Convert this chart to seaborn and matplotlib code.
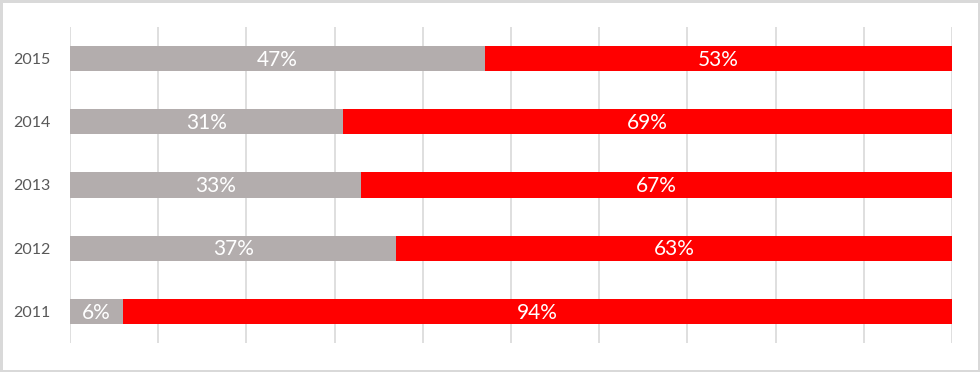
import pandas as pd
from matplotlib import pyplot as plt
import seaborn as sns
import numpy as np

years = ['2015', '2014', '2013', '2012', '2011']
grey_share = [47, 31, 33, 37, 6]
red_share = [53, 69, 67, 63, 94]

data = pd.DataFrame({'year': years, 'grey': grey_share, 'red': red_share})
data['total'] = data['grey'] + data['red']

sns.set_style('white')
plt.rcParams['font.family'] = ['Lato', 'DejaVu Sans']

fig = plt.figure(figsize=(9.8, 3.72), dpi=100)
fig.patch.set_edgecolor('#d9d9d9')
fig.patch.set_linewidth(2.5)
ax = fig.add_axes([70/980, 1 - 343/372, 882/980, 316/372])

# red goes full length, grey drawn over it from the left
sns.barplot(x='total', y='year', data=data, order=years, color='#ff0000',
            width=0.4, orient='h', saturation=1, ax=ax, zorder=3)
sns.barplot(x='grey', y='year', data=data, order=years, color='#b3adad',
            width=0.4, orient='h', saturation=1, ax=ax, zorder=3)
for p in ax.patches:
    p.set_edgecolor('none')
    p.set_alpha(1)

for i, row in data.iterrows():
    ax.text(row['grey'] / 2, i + 0.02, '{}%'.format(row['grey']), color='white',
            ha='center', va='center', fontsize=15, zorder=4)
    ax.text(row['grey'] + row['red'] / 2, i + 0.02, '{}%'.format(row['red']), color='white',
            ha='center', va='center', fontsize=15, zorder=4)

ax.set_xlim(0, 100)
ax.set_ylim(4.5, -0.5)
ax.set_xticks(np.arange(0, 101, 10))
ax.set_xticklabels([])
ax.xaxis.grid(True, color='#d9d9d9', lw=1.2, zorder=0)
ax.set_axisbelow(True)
ax.tick_params(axis='both', length=0)
ax.tick_params(axis='y', labelsize=11.5, labelcolor='#595959', pad=41)
for lbl in ax.get_yticklabels():
    lbl.set_horizontalalignment('left')
ax.set(xlabel='', ylabel='')
sns.despine(ax=ax, left=True, bottom=True)

fig.savefig('out.png', dpi=100, edgecolor=fig.get_edgecolor())
